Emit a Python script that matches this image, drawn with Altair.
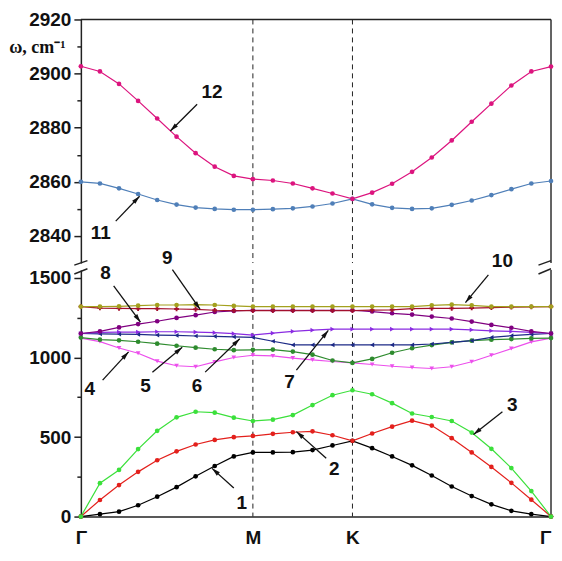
import math
import altair as alt
import pandas as pd

# ---------------- data ----------------
K_PTS = [0.000, 0.064, 0.128, 0.192, 0.256, 0.321, 0.385, 0.449, 0.513, 0.577,
         0.644, 0.711, 0.777, 0.844, 0.911,
         0.977, 1.044, 1.111, 1.177, 1.244, 1.311, 1.377, 1.444, 1.511, 1.577]
KG = 1.577
SYM_K = [0.0, 0.577, 0.911, 1.577]
SYM_NAMES = ["Γ", "M", "K", "Γ"]

B12 = [2902.7, 2900.8, 2896.2, 2889.9, 2883.4, 2876.7, 2870.6, 2865.6, 2862.2, 2861.0,
       2860.5, 2859.4, 2857.6, 2855.7, 2853.7, 2856.0, 2859.3, 2863.7, 2869.0, 2875.3,
       2882.2, 2888.9, 2895.6, 2900.8, 2902.6]
B11 = [2860.0, 2859.4, 2857.6, 2855.5, 2853.3, 2851.6, 2850.5, 2850.0, 2849.7, 2849.7,
       2849.9, 2850.2, 2850.9, 2852.0, 2853.7, 2851.7, 2850.4, 2850.0, 2850.2, 2851.5,
       2853.1, 2855.1, 2857.3, 2859.4, 2860.3]
B1 = [0, 15, 31, 71, 125, 185, 253, 318, 378, 403, 403, 405, 418, 447, 476,
      430, 378, 322, 258, 189, 129, 77, 36, 15, 0]
B2 = [0, 104, 198, 281, 354, 410, 453, 482, 499, 507, 520, 530, 536, 511, 476,
      522, 565, 603, 572, 493, 403, 312, 212, 106, 0]
B3 = [0, 210, 293, 424, 539, 624, 659, 653, 622, 601, 609, 638, 701, 763, 794,
      769, 713, 648, 626, 601, 528, 426, 305, 160, 0]
B4 = [1122, 1100, 1060, 1027, 977, 948, 942, 972, 1000, 1014, 1010, 996, 985, 975, 966,
      956, 945, 937, 931, 942, 973, 1014, 1056, 1098, 1122]
B5 = [1125, 1112, 1108, 1099, 1087, 1074, 1062, 1052, 1046, 1048, 1050, 1037, 1018, 981, 966,
      991, 1030, 1058, 1078, 1095, 1106, 1112, 1116, 1120, 1122]
B6 = [1151, 1149, 1147, 1145, 1141, 1139, 1135, 1133, 1130, 1126, 1102, 1079, 1079, 1079, 1079,
      1079, 1079, 1079, 1085, 1095, 1106, 1126, 1137, 1145, 1151]
B7 = [1151, 1158, 1160, 1160, 1162, 1162, 1160, 1156, 1150, 1141, 1153, 1164, 1172, 1178, 1178,
      1178, 1178, 1178, 1178, 1178, 1174, 1168, 1164, 1158, 1151]
B8 = [1151, 1164, 1189, 1210, 1228, 1249, 1266, 1286, 1293, 1297, 1297, 1297, 1297, 1297, 1297,
      1289, 1278, 1270, 1257, 1245, 1226, 1205, 1187, 1164, 1151]
B9 = [1320, 1311, 1309, 1307, 1307, 1305, 1303, 1297, 1295, 1295, 1295, 1295, 1295, 1295, 1295,
      1298, 1300, 1307, 1309, 1309, 1311, 1313, 1316, 1318, 1320]
B10 = [1320, 1320, 1322, 1326, 1330, 1330, 1332, 1330, 1324, 1320, 1320, 1320, 1320, 1320, 1320,
       1320, 1320, 1320, 1328, 1332, 1328, 1320, 1320, 1320, 1320]

UPPER_NAMES = ["11", "12"]
UPPER_SERIES = [B11, B12]
LOWER_NAMES = ["1", "2", "3", "4", "5", "6", "7", "8", "9", "10"]
LOWER_SERIES = [B1, B2, B3, B4, B5, B6, B7, B8, B9, B10]

# annotation labels
UP_LAB_T = ["12", "11", "9", "10"]
UP_LAB_K = [0.440, 0.067, 0.290, 1.414]
UP_LAB_W = [2893.1, 2841.1, 2832.0, 2830.9]
UP_ARR_K1 = [0.390, 0.117]
UP_ARR_W1 = [2888.7, 2845.5]
UP_ARR_K2 = [0.300, 0.197]
UP_ARR_W2 = [2878.8, 2854.7]

LOW_LAB_T = ["8", "4", "5", "6", "7", "3", "2", "1"]
LOW_LAB_K = [0.083, 0.030, 0.217, 0.390, 0.700, 1.447, 0.850, 0.540]
LOW_LAB_W = [1532, 802, 821, 821, 846, 701, 297, 85]
LOW_ARR_K1 = [0.307, 0.110, 1.367, 0.073, 0.240, 0.417, 0.723, 1.414, 0.823, 0.513]
LOW_ARR_W1 = [1552, 1451, 1519, 858, 908, 908, 921, 659, 366, 179]
LOW_ARR_K2 = [0.400, 0.200, 1.290, 0.160, 0.340, 0.533, 0.830, 1.317, 0.723, 0.440]
LOW_ARR_W2 = [1302, 1222, 1345, 1035, 1064, 1118, 1170, 516, 534, 303]

# axis-break strokes (one in each panel, on both vertical axes)
BRK_UP_K1 = [-0.022, 1.535]
BRK_UP_K2 = [0.022, 1.577]
BRK_UP_W1 = [2829.2, 2829.2]
BRK_UP_W2 = [2830.9, 2830.9]
BRK_LOW_K1 = [-0.022, 1.535]
BRK_LOW_K2 = [0.022, 1.577]
BRK_LOW_W1 = [1525, 1525]
BRK_LOW_W2 = [1558, 1558]

# ---------------- styles ----------------
ALL_NAMES = ["1", "2", "3", "4", "5", "6", "7", "8", "9", "10", "11", "12"]
COLORS = ["#000000", "#E3201C", "#3BE03B", "#EC4FEC", "#2E8B2E", "#1C2A86",
          "#8A2BE2", "#800080", "#A3102E", "#A3A01E", "#4F7FB8", "#DC147E"]
SHAPES = ["circle", "circle", "circle", "triangle-down", "circle", "triangle-left",
          "triangle-right", "circle", "cross", "circle", "circle", "circle"]
SIZES = [22, 22, 22, 38, 28, 34, 34, 45, 30, 34, 22, 26]

W = 471
H_UP = 244
H_LOW = 247
UP_DOMAIN = [2830, 2920]
LOW_DOMAIN = [0, 1550]
FONT = "Liberation Sans"
ARROW_PATH = "M0,0L-0.35,1.3L0.35,1.3Z"


def long_df(names, series):
    rows = []
    for n, s in zip(names, series):
        for k, w in zip(K_PTS, s):
            rows.append({"k": k, "w": w, "branch": n})
    return pd.DataFrame(rows)


def arrow_df(k1, w1, k2, w2, dom, h):
    pxk = W / KG
    pxw = h / (dom[1] - dom[0])
    ang = []
    for a, b, c, d in zip(k1, w1, k2, w2):
        dx = (c - a) * pxk
        dy_up = (d - b) * pxw
        ang.append(math.degrees(math.atan2(dx, dy_up)) % 360)
    return pd.DataFrame({"k": k1, "w": w1, "k2": k2, "w2": w2, "ang": ang})


color_enc = alt.Color("branch:N", scale=alt.Scale(domain=ALL_NAMES, range=COLORS), legend=None)
shape_enc = alt.Shape("branch:N", scale=alt.Scale(domain=ALL_NAMES, range=SHAPES), legend=None)
size_enc = alt.Size("branch:N", scale=alt.Scale(domain=ALL_NAMES, range=SIZES), legend=None)


def panel(names, series, dom, h, y_axis, x_axis, lab, arr, brk, extra=None):
    xs = alt.Scale(domain=[0, KG], nice=False, zero=False)
    ys = alt.Scale(domain=dom, nice=False, zero=False)
    X = alt.X("k:Q", scale=xs, axis=x_axis, title=None)
    Y = alt.Y("w:Q", scale=ys, axis=y_axis)
    X2 = alt.X2("k2")
    Y2 = alt.Y2("w2")
    df = long_df(names, series)
    sym = pd.DataFrame({"k": SYM_K[1:3]})
    right = pd.DataFrame({"k": [KG]})

    dashed = alt.Chart(sym).mark_rule(color="#222222", strokeWidth=1, strokeDash=[5, 4]).encode(x=X)
    rframe = alt.Chart(right).mark_rule(color="#222222", strokeWidth=1.4).encode(x=X)
    lines = alt.Chart(df).mark_line(strokeWidth=1.2).encode(x=X, y=Y, color=color_enc)
    pts = alt.Chart(df).mark_point(filled=True, opacity=1).encode(
        x=X, y=Y, color=color_enc, shape=shape_enc, size=size_enc)
    texts = alt.Chart(lab).mark_text(font=FONT, fontSize=19, fontWeight="bold",
                                     color="#111111", align="center", baseline="middle").encode(
        x=X, y=Y, text="t:N")
    arr_lines = alt.Chart(arr).mark_rule(color="#111111", strokeWidth=1.3).encode(x=X, y=Y, x2=X2, y2=Y2)
    heads = alt.Chart(arr).mark_point(shape=ARROW_PATH, filled=True, size=170, color="#111111",
                                      opacity=1, strokeWidth=0).encode(
        x=alt.X("k2:Q", scale=xs, axis=x_axis, title=None),
        y=alt.Y("w2:Q", scale=ys, axis=y_axis),
        angle=alt.Angle("ang:Q", scale=None))
    brk_lines = alt.Chart(brk).mark_rule(color="#222222", strokeWidth=1.4).encode(
        x=X, y=Y, x2=X2, y2=Y2)
    layers = [dashed, rframe, lines, pts, arr_lines, heads, texts, brk_lines]
    if extra is not None:
        layers += extra(X, Y)
    return alt.layer(*layers).properties(width=W, height=h)


axis_common = dict(
    labelFont=FONT, labelFontWeight="bold", labelFontSize=19, labelColor="#111111",
    domainColor="#222222", domainWidth=1.5, tickColor="#222222", tickWidth=1.5,
    grid=False, labelPadding=3, format="d",
)

up_y_axis = alt.Axis(
    values=[2840, 2850, 2860, 2870, 2880, 2890, 2900, 2910, 2920],
    labelExpr="datum.value % 20 === 0 ? datum.label : ''",
    tickSize={"condition": {"test": "datum.value % 20 === 0", "value": 7}, "value": 4},
    title="ω, cm⁻¹", titleAngle=0, titleX=-44, titleY=28, titleAlign="center",
    titleBaseline="middle", titleFont="Liberation Serif", titleFontSize=18,
    titleFontWeight="bold", titleColor="#111111",
    **axis_common)

low_y_axis = alt.Axis(
    values=[0, 250, 500, 750, 1000, 1250, 1500],
    labelExpr="datum.value % 500 === 0 ? datum.label : ''",
    tickSize={"condition": {"test": "datum.value % 500 === 0", "value": 7}, "value": 4},
    title=None,
    **axis_common)

low_x_axis = alt.Axis(
    values=SYM_K,
    labelExpr="datum.value < 0.3 ? 'Γ' : (datum.value < 0.75 ? 'M' : (datum.value < 1.2 ? 'K' : 'Γ'))",
    labelAlign={"condition": {"test": "datum.value > 1.5", "value": "right"}, "value": "center"},
    ticks=False, labelPadding=12, labelFont=FONT, labelFontWeight="bold", labelFontSize=19,
    labelColor="#111111", domainColor="#222222", domainWidth=1.5, grid=False, title=None,
    labelFlush=False,
)

up_lab = pd.DataFrame({"t": UP_LAB_T, "k": UP_LAB_K, "w": UP_LAB_W})
up_arr = arrow_df(UP_ARR_K1, UP_ARR_W1, UP_ARR_K2, UP_ARR_W2, UP_DOMAIN, H_UP)
low_lab = pd.DataFrame({"t": LOW_LAB_T, "k": LOW_LAB_K, "w": LOW_LAB_W})
low_arr = arrow_df(LOW_ARR_K1, LOW_ARR_W1, LOW_ARR_K2, LOW_ARR_W2, LOW_DOMAIN, H_LOW)
up_brk = pd.DataFrame({"k": BRK_UP_K1, "w": BRK_UP_W1, "k2": BRK_UP_K2, "w2": BRK_UP_W2})
low_brk = pd.DataFrame({"k": BRK_LOW_K1, "w": BRK_LOW_W1, "k2": BRK_LOW_K2, "w2": BRK_LOW_W2})


def upper_extra(X, Y):
    top = pd.DataFrame({"w": [UP_DOMAIN[1]]})
    return [alt.Chart(top).mark_rule(color="#222222", strokeWidth=1.5).encode(y=Y)]


upper = panel(UPPER_NAMES, UPPER_SERIES, UP_DOMAIN, H_UP, up_y_axis, None, up_lab, up_arr,
              up_brk, upper_extra)
lower = panel(LOWER_NAMES, LOWER_SERIES, LOW_DOMAIN, H_LOW, low_y_axis, low_x_axis, low_lab,
              low_arr, low_brk)

chart = alt.vconcat(upper, lower, spacing=7, bounds="flush").properties(
    padding={"left": 0, "top": 2, "right": 0, "bottom": 0},
    background="white",
).configure_view(stroke=None)

chart.save("out.html", embed_options={"renderer": "svg", "actions": False})
